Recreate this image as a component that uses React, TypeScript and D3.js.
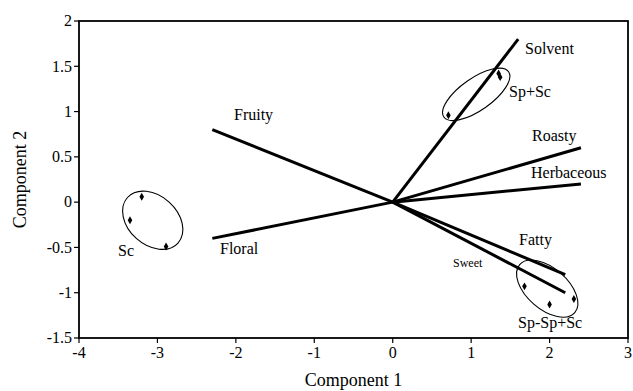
import React from "react";
import * as d3 from "d3";

// loading vectors (end points, all start at origin)
const vectorNames = ["Solvent", "Roasty", "Herbaceous", "Fatty", "Sweet", "Fruity", "Floral"];
const vectorX = [1.6, 2.4, 2.4, 2.2, 2.2, -2.3, -2.3];
const vectorY = [1.8, 0.6, 0.2, -0.8, -1.0, 0.8, -0.4];

// sample scores per group
const groupNames = ["Sc", "Sp+Sc", "Sp-Sp+Sc"];
const scoreX = [
  [-3.2, -3.35, -2.89],
  [1.35, 1.37, 0.71],
  [1.68, 2.0, 2.31],
];
const scoreY = [
  [0.06, -0.2, -0.49],
  [1.42, 1.38, 0.96],
  [-0.93, -1.13, -1.07],
];

// group ellipse centres (data units)
const ellipseCX = [-3.06, 1.065, 1.97];
const ellipseCY = [-0.2, 1.19, -0.955];

const xTicks = [-4, -3, -2, -1, 0, 1, 2, 3];
const yTicks = [-1.5, -1, -0.5, 0, 0.5, 1, 1.5, 2];

const W = 633;
const H = 391;
const margin = { top: 21, right: 5, bottom: 53, left: 79 };
const font = "'Times New Roman', 'Liberation Serif', Tinos, 'DejaVu Serif', serif";

export default function App() {
  const x = d3.scaleLinear().domain([-4, 3]).range([margin.left, W - margin.right]);
  const y = d3.scaleLinear().domain([-1.5, 2]).range([H - margin.bottom, margin.top]);

  const diamond = d3.symbol().type(d3.symbolDiamond).size(18)();

  // ellipse shapes (px radii, rotation deg)
  const ellipseStyle = [
    { rx: 34, ry: 24.5, rot: 42 },
    { rx: 39.5, ry: 16, rot: -35 },
    { rx: 36.5, ry: 20.5, rot: 41 },
  ];

  // label placements
  const vecLabel: Record<string, { x: number; y: number; size: number }> = {
    Solvent: { x: 525, y: 54, size: 16 },
    Roasty: { x: 532, y: 141, size: 16 },
    Herbaceous: { x: 531, y: 178, size: 16 },
    Fatty: { x: 519, y: 245, size: 16 },
    Sweet: { x: 453, y: 267, size: 12 },
    Fruity: { x: 234, y: 120, size: 16 },
    Floral: { x: 220, y: 254, size: 16 },
  };
  const groupLabel = [
    { x: 118, y: 256 },
    { x: 509, y: 97 },
    { x: 518, y: 328 },
  ];

  const x0 = x(0);
  const y0 = y(0);

  return (
    <div style={{ position: "absolute", left: 0, top: 0 }}>
      <svg width={W} height={H} style={{ display: "block", background: "#fff", fontFamily: font }}>
        {/* plot frame */}
        <rect
          x={margin.left}
          y={margin.top}
          width={W - margin.left - margin.right}
          height={H - margin.top - margin.bottom}
          fill="none"
          stroke="#000"
          strokeWidth={1.8}
        />

        {/* y axis ticks */}
        {yTicks.map((t) => (
          <g key={"y" + t}>
            <line x1={margin.left - 5} x2={margin.left} y1={y(t)} y2={y(t)} stroke="#000" strokeWidth={1.2} />
            <text x={margin.left - 7} y={y(t)} dy="0.33em" textAnchor="end" fontSize={16}>
              {t}
            </text>
          </g>
        ))}

        {/* x axis ticks */}
        {xTicks.map((t) => (
          <g key={"x" + t}>
            <line x1={x(t)} x2={x(t)} y1={H - margin.bottom} y2={H - margin.bottom + 5} stroke="#000" strokeWidth={1.2} />
            <text x={x(t)} y={H - margin.bottom + 20} textAnchor="middle" fontSize={16}>
              {t}
            </text>
          </g>
        ))}

        <text x={(margin.left + W - margin.right) / 2} y={386} textAnchor="middle" fontSize={18}>
          Component 1
        </text>
        <text
          transform={`translate(26,${(margin.top + H - margin.bottom) / 2}) rotate(-90)`}
          textAnchor="middle"
          fontSize={18}
        >
          Component 2
        </text>

        {/* loading vectors */}
        {vectorNames.map((name, i) => (
          <g key={name}>
            <line
              x1={x0}
              y1={y0}
              x2={x(vectorX[i])}
              y2={y(vectorY[i])}
              stroke="#000"
              strokeWidth={3}
            />
            <text x={vecLabel[name].x} y={vecLabel[name].y} fontSize={vecLabel[name].size}>
              {name}
            </text>
          </g>
        ))}

        {/* groups */}
        {groupNames.map((g, gi) => (
          <g key={g}>
            <ellipse
              cx={0}
              cy={0}
              rx={ellipseStyle[gi].rx}
              ry={ellipseStyle[gi].ry}
              transform={`translate(${x(ellipseCX[gi])},${y(ellipseCY[gi])}) rotate(${ellipseStyle[gi].rot})`}
              fill="none"
              stroke="#000"
              strokeWidth={1.1}
            />
            {scoreX[gi].map((sx, k) => (
              <path key={k} d={diamond as string} transform={`translate(${x(sx)},${y(scoreY[gi][k])})`} fill="#000" />
            ))}
            <text x={groupLabel[gi].x} y={groupLabel[gi].y} fontSize={16}>
              {g}
            </text>
          </g>
        ))}
      </svg>
    </div>
  );
}
